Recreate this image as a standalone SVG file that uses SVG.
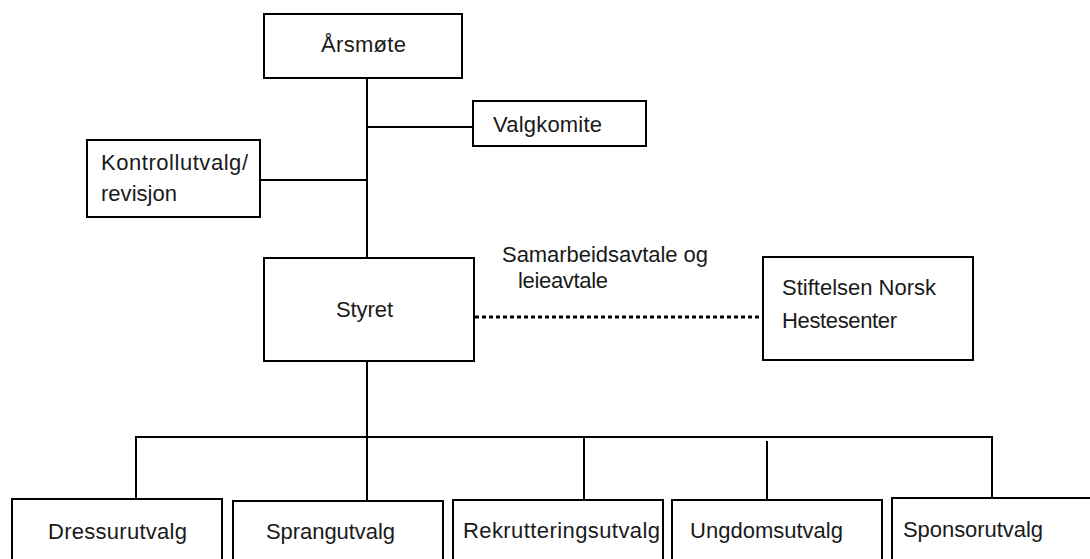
<svg xmlns="http://www.w3.org/2000/svg" width="1090" height="559" viewBox="0 0 1090 559">
  <style>
    .box { fill: #ffffff; stroke: #000000; stroke-width: 2; }
    .lbl { font-family: "Liberation Sans", Arial, sans-serif; font-size: 22px; fill: #1a1a1a; }
    .ln { stroke: #000000; stroke-width: 2; fill: none; }
    .dot { stroke: #000000; stroke-width: 3; stroke-dasharray: 4 3; fill: none; }
  </style>
  <rect width="1090" height="559" fill="#ffffff"/>
  <g id="connectors">
    <line class="ln" x1="367" y1="78" x2="367" y2="258"/>
    <line class="ln" x1="367" y1="127" x2="473" y2="127"/>
    <line class="ln" x1="260" y1="180" x2="367" y2="180"/>
    <line class="dot" x1="475" y1="317" x2="763" y2="317"/>
    <line class="ln" x1="367" y1="361" x2="367" y2="501"/>
    <line class="ln" x1="135" y1="437" x2="993" y2="437"/>
    <line class="ln" x1="136" y1="437" x2="136" y2="499"/>
    <line class="ln" x1="584" y1="437" x2="584" y2="500"/>
    <line class="ln" x1="767" y1="441" x2="767" y2="500"/>
    <line class="ln" x1="992" y1="437" x2="992" y2="498"/>
  </g>
  <g id="arsmote">
    <rect class="box" x="264" y="14" width="198" height="64"/>
    <text class="lbl" x="321" y="52" textLength="85">Årsmøte</text>
  </g>
  <g id="valgkomite">
    <rect class="box" x="473" y="101" width="173" height="45"/>
    <text class="lbl" x="493" y="132" textLength="109">Valgkomite</text>
  </g>
  <g id="kontrollutvalg">
    <rect class="box" x="87" y="140" width="173" height="77"/>
    <text class="lbl" x="101" y="170" textLength="147">Kontrollutvalg/</text>
    <text class="lbl" x="101" y="201" textLength="76">revisjon</text>
  </g>
  <g id="styret">
    <rect class="box" x="264" y="258" width="210" height="103"/>
    <text class="lbl" x="336" y="317" textLength="57">Styret</text>
  </g>
  <g id="avtale-label">
    <text class="lbl" x="502" y="262" textLength="206">Samarbeidsavtale og</text>
    <text class="lbl" x="518" y="288" textLength="90">leieavtale</text>
  </g>
  <g id="stiftelsen">
    <rect class="box" x="763" y="257" width="210" height="103"/>
    <text class="lbl" x="782" y="295" textLength="154">Stiftelsen Norsk</text>
    <text class="lbl" x="782" y="328" textLength="115">Hestesenter</text>
  </g>
  <g id="dressurutvalg">
    <rect class="box" x="12" y="499" width="210" height="80"/>
    <text class="lbl" x="48" y="539" textLength="139">Dressurutvalg</text>
  </g>
  <g id="sprangutvalg">
    <rect class="box" x="233" y="501" width="210" height="80"/>
    <text class="lbl" x="266" y="539" textLength="129">Sprangutvalg</text>
  </g>
  <g id="rekrutteringsutvalg">
    <rect class="box" x="453" y="500" width="210" height="80"/>
    <text class="lbl" x="463" y="538" textLength="197">Rekrutteringsutvalg</text>
  </g>
  <g id="ungdomsutvalg">
    <rect class="box" x="672" y="500" width="210" height="80"/>
    <text class="lbl" x="690" y="538" textLength="153">Ungdomsutvalg</text>
  </g>
  <g id="sponsorutvalg">
    <rect class="box" x="892" y="498" width="210" height="80"/>
    <text class="lbl" x="903" y="537" textLength="140">Sponsorutvalg</text>
  </g>
</svg>
